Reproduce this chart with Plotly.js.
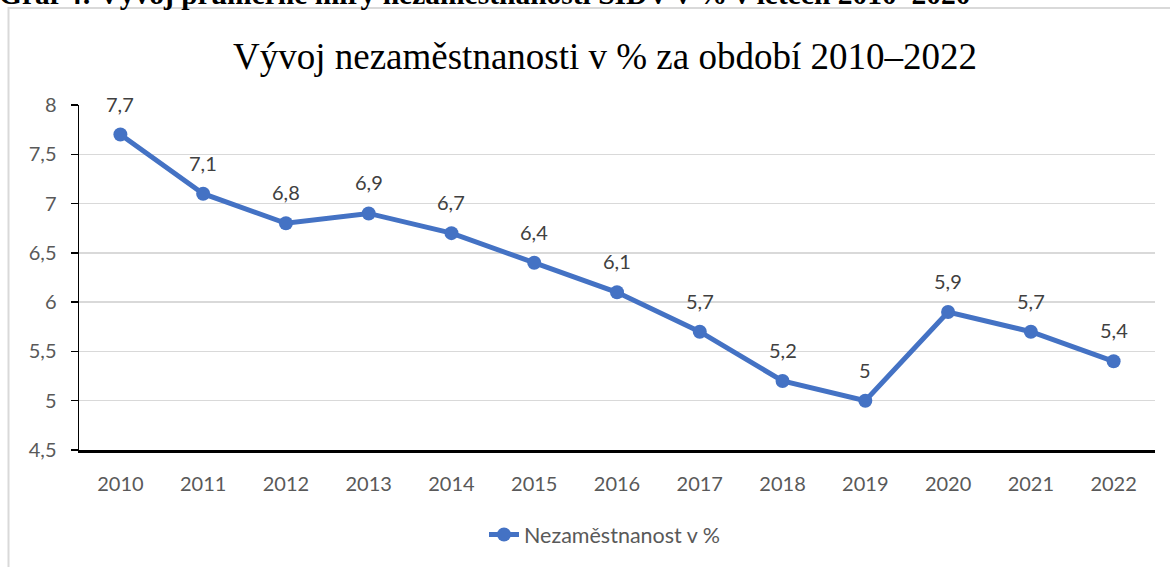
<!DOCTYPE html>
<html>
<head>
<meta charset="utf-8">
<script src="https://cdn.plot.ly/plotly-3.0.1.min.js"></script>
<style>
html,body{margin:0;padding:0;background:#fff;overflow:hidden;}
#chart{width:1170px;height:567px;}
</style>
</head>
<body>
<div id="chart"></div>
<script>
const years = ["2010","2011","2012","2013","2014","2015","2016","2017","2018","2019","2020","2021","2022"];
const unemployment = [7.7, 7.1, 6.8, 6.9, 6.7, 6.4, 6.1, 5.7, 5.2, 5.0, 5.9, 5.7, 5.4];
const yTicks = [4.5, 5, 5.5, 6, 6.5, 7, 7.5, 8];
const seriesName = "Nezaměstnanost v %";
const chartTitle = "Vývoj nezaměstnanosti v % za období 2010–2022";
const caption = "Graf 4: Vývoj průměrné míry nezaměstnanosti SIDV v % v letech 2010–2020";

const fmt = v => String(v).replace(".", ",");
const labelFont = "Lato, 'Open Sans', sans-serif";

const trace = {
  x: years,
  y: unemployment,
  type: "scatter",
  mode: "lines+markers",
  name: seriesName,
  line: {color: "#4472C4", width: 5},
  marker: {color: "#4472C4", size: 14},
  cliponaxis: false,
  hoverinfo: "x+y"
};

const L = 79, R = 15, T = 105, B = 115;
const pw = 1170 - L - R, ph = 567 - T - B;
const px = p => (p - L) / pw;
const py = p => (567 - B - p) / ph;

// data labels: positioned on the category axis by index, above each point
const dataLabels = years.map((yr, i) => ({
  x: i, y: unemployment[i], xref: "x", yref: "y",
  text: fmt(unemployment[i]),
  showarrow: false, yanchor: "middle", yshift: 31,
  font: {family: labelFont, size: 20, color: "#404040"}
}));

const layout = {
  width: 1170, height: 567,
  margin: {l: L, r: R, t: T, b: B, pad: 0},
  paper_bgcolor: "#ffffff",
  plot_bgcolor: "#ffffff",
  separators: ", ",
  showlegend: true,
  title: {
    text: chartTitle,
    font: {family: "'Liberation Serif', 'Times New Roman', serif", size: 37, color: "#000000"},
    x: px(605), xanchor: "center", xref: "paper",
    y: 1 - 56/567, yanchor: "middle"
  },
  xaxis: {
    type: "category",
    range: [-0.5, years.length - 0.5],
    showgrid: false,
    showline: true, linecolor: "#000000", linewidth: 2.5,
    ticks: "",
    tickfont: {family: labelFont, size: 20, color: "#595959"},
    ticklabelstandoff: 14,
    zeroline: false,
    fixedrange: true
  },
  yaxis: {
    range: [4.5, 8],
    tickvals: yTicks,
    ticktext: yTicks.map(fmt),
    showgrid: true, gridcolor: "#d9d9d9", gridwidth: 1.5,
    showline: true, linecolor: "#000000", linewidth: 1.5,
    ticks: "outside", ticklen: 7, tickcolor: "#000000", tickwidth: 1.5,
    tickfont: {family: labelFont, size: 20, color: "#595959"},
    ticklabelstandoff: 10,
    zeroline: false,
    fixedrange: true
  },
  legend: {
    orientation: "h",
    x: px(605), xanchor: "center",
    y: py(537), yanchor: "middle",
    font: {family: labelFont, size: 21.5, color: "#595959"},
    bgcolor: "rgba(0,0,0,0)"
  },
  shapes: [{
    type: "rect", xref: "paper", yref: "paper",
    x0: px(8.5), x1: px(1200), y0: py(7.5), y1: py(600),
    line: {color: "#d9d9d9", width: 2},
    fillcolor: "rgba(0,0,0,0)",
    layer: "below"
  }],
  annotations: dataLabels.concat([{
    text: "<b>" + caption + "</b>",
    xref: "paper", yref: "paper",
    x: px(-3), xanchor: "left",
    y: py(-7), yanchor: "middle",
    showarrow: false,
    font: {family: "'Liberation Serif', 'Times New Roman', serif", size: 29.5, color: "#000000"}
  }])
};

Plotly.newPlot("chart", [trace], layout, {displayModeBar: false, staticPlot: true});
</script>
</body>
</html>
